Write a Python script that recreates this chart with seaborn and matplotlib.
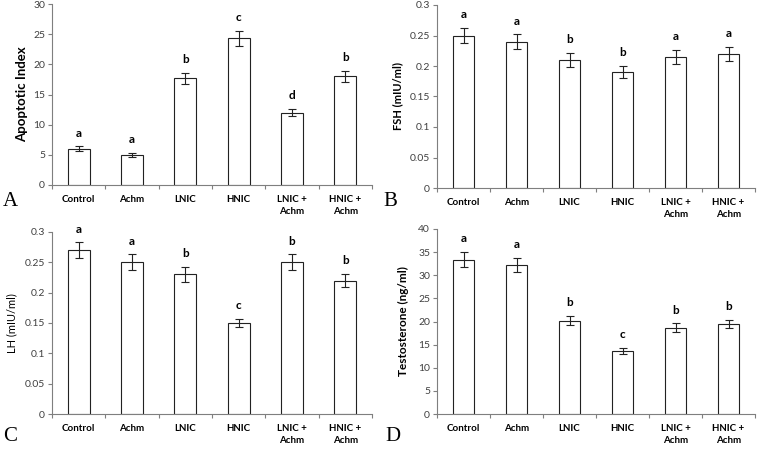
import matplotlib
matplotlib.use("Agg")
import matplotlib.pyplot as plt
import seaborn as sns
import numpy as np

categories = ["Control", "Achm", "LNIC", "HNIC", "LNIC +\nAchm", "HNIC +\nAchm"]

apoptotic = [6.0, 5.0, 17.7, 24.3, 12.0, 18.0]
apoptotic_err = [0.4, 0.3, 0.9, 1.2, 0.6, 0.9]
apoptotic_letters = ["a", "a", "b", "c", "d", "b"]

fsh = [0.25, 0.24, 0.21, 0.19, 0.215, 0.22]
fsh_err = [0.013, 0.012, 0.011, 0.010, 0.011, 0.011]
fsh_letters = ["a", "a", "b", "b", "a", "a"]

lh = [0.27, 0.25, 0.23, 0.15, 0.25, 0.22]
lh_err = [0.013, 0.013, 0.012, 0.007, 0.013, 0.011]
lh_letters = ["a", "a", "b", "c", "b", "b"]

testo = [33.4, 32.2, 20.2, 13.6, 18.7, 19.4]
testo_err = [1.6, 1.6, 1.0, 0.7, 0.9, 0.9]
testo_letters = ["a", "a", "b", "c", "b", "b"]

sns.set_theme(style="white")
plt.rcParams["font.family"] = ["Lato", "DejaVu Sans"]

fig = plt.figure(figsize=(7.66, 4.5), dpi=100)
W, H = 766, 450

def axes_px(l, t, r, b):
    return fig.add_axes([l / W, (H - b) / H, (r - l) / W, (b - t) / H])

panels = [
    dict(box=(52, 4, 372, 185), vals=apoptotic, err=apoptotic_err, let=apoptotic_letters,
         ylim=(0, 30), ticks=np.arange(0, 31, 5), fmt="{:g}", ylabel="Apoptotic Index",
         lsize=9.5, lweight="bold", lx=-0.095, tag="A", tagpos=(3, 206)),
    dict(box=(437, 5, 755, 188), vals=fsh, err=fsh_err, let=fsh_letters,
         ylim=(0, 0.3), ticks=np.arange(0, 0.31, 0.05), fmt="{:g}", ylabel="FSH (mIU/ml)",
         lsize=8, lweight="bold", lx=-0.125, tag="B", tagpos=(383, 206)),
    dict(box=(52, 232, 372, 414), vals=lh, err=lh_err, let=lh_letters,
         ylim=(0, 0.3), ticks=np.arange(0, 0.31, 0.05), fmt="{:g}", ylabel="LH (mIU/ml)",
         lsize=8, lweight="normal", lx=-0.125, tag="C", tagpos=(3, 441)),
    dict(box=(437, 229, 755, 414), vals=testo, err=testo_err, let=testo_letters,
         ylim=(0, 40), ticks=np.arange(0, 41, 5), fmt="{:g}", ylabel="Testosterone (ng/ml)",
         lsize=8.5, lweight="bold", lx=-0.105, tag="D", tagpos=(385, 441)),
]

gray = "#7f7f7f"
for p in panels:
    ax = axes_px(*p["box"])
    sns.barplot(x=categories, y=p["vals"], ax=ax, color="white", edgecolor="#222222",
                linewidth=0.8, width=0.41, errorbar=None, saturation=1)
    x = np.arange(len(categories))
    ax.errorbar(x, p["vals"], yerr=p["err"], fmt="none", ecolor="#222222",
                elinewidth=0.8, capsize=3, capthick=0.8)
    for xi, v, e, t in zip(x, p["vals"], p["err"], p["let"]):
        ax.annotate(t, (xi, v + e), xytext=(0, 9.5), textcoords="offset points",
                    ha="center", va="center", fontsize=8.5, fontweight="bold", color="black")
    ax.set_ylim(*p["ylim"])
    ax.set_xlim(-0.5, len(categories) - 0.5)
    ax.set_yticks(p["ticks"])
    ax.set_yticklabels([p["fmt"].format(round(t, 3)) for t in p["ticks"]],
                       fontsize=7.5, color="#404040")
    ax.set_xticks(x)
    ax.set_xticklabels(categories, fontsize=7, fontweight="bold", color="black",
                       linespacing=1.3)
    ax.set_xticks(np.arange(-0.5, len(categories), 1.0), minor=True)
    ax.tick_params(axis="x", which="major", length=0, pad=7.5)
    ax.tick_params(axis="x", which="minor", length=3, width=0.8, color=gray, direction="out",
                   bottom=True)
    ax.tick_params(axis="y", which="major", length=3, width=0.8, color=gray, direction="out",
                   left=True, pad=2)
    for s in ["top", "right"]:
        ax.spines[s].set_visible(False)
    for s in ["left", "bottom"]:
        ax.spines[s].set_color(gray)
        ax.spines[s].set_linewidth(0.8)
    ax.set_ylabel(p["ylabel"], fontsize=p["lsize"], fontweight=p["lweight"], color="black")
    ax.yaxis.label.set_va("center")
    ax.yaxis.set_label_coords(p["lx"], 0.5)
    ax.set_xlabel("")
    ax.set_facecolor("white")
    tx, ty = p["tagpos"]
    fig.text(tx / W, (H - ty) / H, p["tag"], fontsize=15, family="Liberation Serif",
             ha="left", va="baseline", color="black")

fig.savefig("out.png", dpi=100, facecolor="white")
